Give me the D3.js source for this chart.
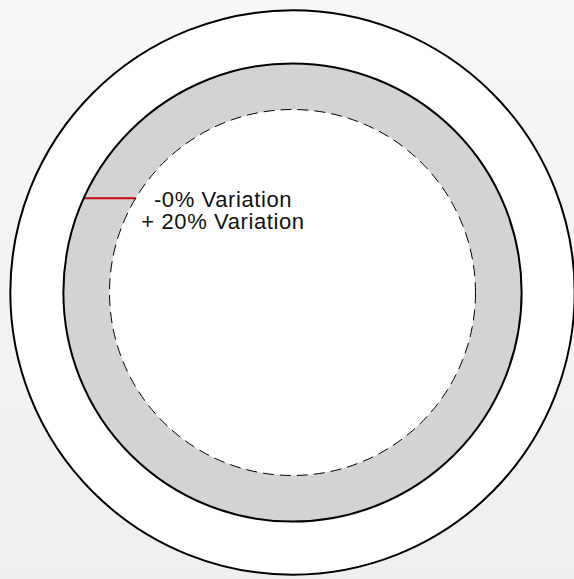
<!DOCTYPE html>
<html lang="en">
<head>
  <meta charset="UTF-8" />
  <title>Variation rings</title>
  <style>
    html, body { margin: 0; padding: 0; }
    body { width: 574px; height: 579px; overflow: hidden; }
    svg { display: block; }
  </style>
</head>
<body>
  <div id="chart"></div>

  <script src="https://cdn.jsdelivr.net/npm/d3@7"></script>
  <script>
    // Ring levels (nominal = 1)
    const ringNames = ["outer", "upper", "nominal"];
    const ringLevels = [1.542, 1.252, 1.0];
    const ringStyles = ["solid", "solid", "dashed"];

    // Marker line and its labels
    const markerLevel = [0.515];
    const labelLines = ["-0% Variation", "+ 20% Variation"];

    const width = 574, height = 579;
    const cx = 292.5, cy = 292.5;

    // Radial scale: level -> pixel radius
    const r = d3.scaleLinear().domain([0, 1]).range([0, 183]);

    const svg = d3.select("#chart")
      .append("svg")
      .attr("width", width)
      .attr("height", height);

    // Faint grey backdrop
    const defs = svg.append("defs");
    const grad = defs.append("linearGradient")
      .attr("id", "bg")
      .attr("x1", 0).attr("y1", 0).attr("x2", 0).attr("y2", 1);
    grad.append("stop").attr("offset", "0%").attr("stop-color", "#f7f7f7");
    grad.append("stop").attr("offset", "100%").attr("stop-color", "#efefef");

    svg.append("rect")
      .attr("width", width)
      .attr("height", height)
      .attr("fill", "url(#bg)");

    const g = svg.append("g").attr("transform", `translate(${cx},${cy})`);

    // Outer white disc
    g.append("circle")
      .attr("r", r(ringLevels[0]))
      .attr("fill", "#fff");

    // Grey band between nominal and upper ring
    const band = d3.arc()
      .innerRadius(r(ringLevels[2]))
      .outerRadius(r(ringLevels[1]))
      .startAngle(0)
      .endAngle(2 * Math.PI);

    g.append("path")
      .attr("d", band())
      .attr("fill", "#d3d3d3");

    // Marker line across the band
    const my = -r(markerLevel[0]);
    const xOuter = -Math.sqrt(r(ringLevels[1]) ** 2 - my * my);
    const xInner = -Math.sqrt(r(ringLevels[2]) ** 2 - my * my);

    g.append("line")
      .attr("x1", xOuter)
      .attr("x2", xInner)
      .attr("y1", my)
      .attr("y2", my)
      .attr("stroke", "#c40d0d")
      .attr("stroke-width", 2);

    // Ring outlines
    g.selectAll("circle.ring")
      .data(ringLevels)
      .enter()
      .append("circle")
      .attr("class", "ring")
      .attr("r", d => r(d))
      .attr("fill", "none")
      .attr("stroke", "#000")
      .attr("stroke-width", (d, i) => ringStyles[i] === "dashed" ? 1 : 2)
      .attr("stroke-dasharray", (d, i) => ringStyles[i] === "dashed" ? "11,6" : null);

    // Labels
    g.append("text")
      .attr("x", -69.5)
      .attr("y", my + 8.4)
      .attr("text-anchor", "middle")
      .style("font-family", "'Liberation Sans', Arial, Helvetica, sans-serif")
      .style("font-size", "22px")
      .style("letter-spacing", "0.6px")
      .style("fill", "#111")
      .selectAll("tspan")
      .data(labelLines)
      .enter()
      .append("tspan")
      .attr("x", -69.5)
      .attr("dy", (d, i) => i === 0 ? 0 : 22)
      .text(d => d);
  </script>
</body>
</html>
